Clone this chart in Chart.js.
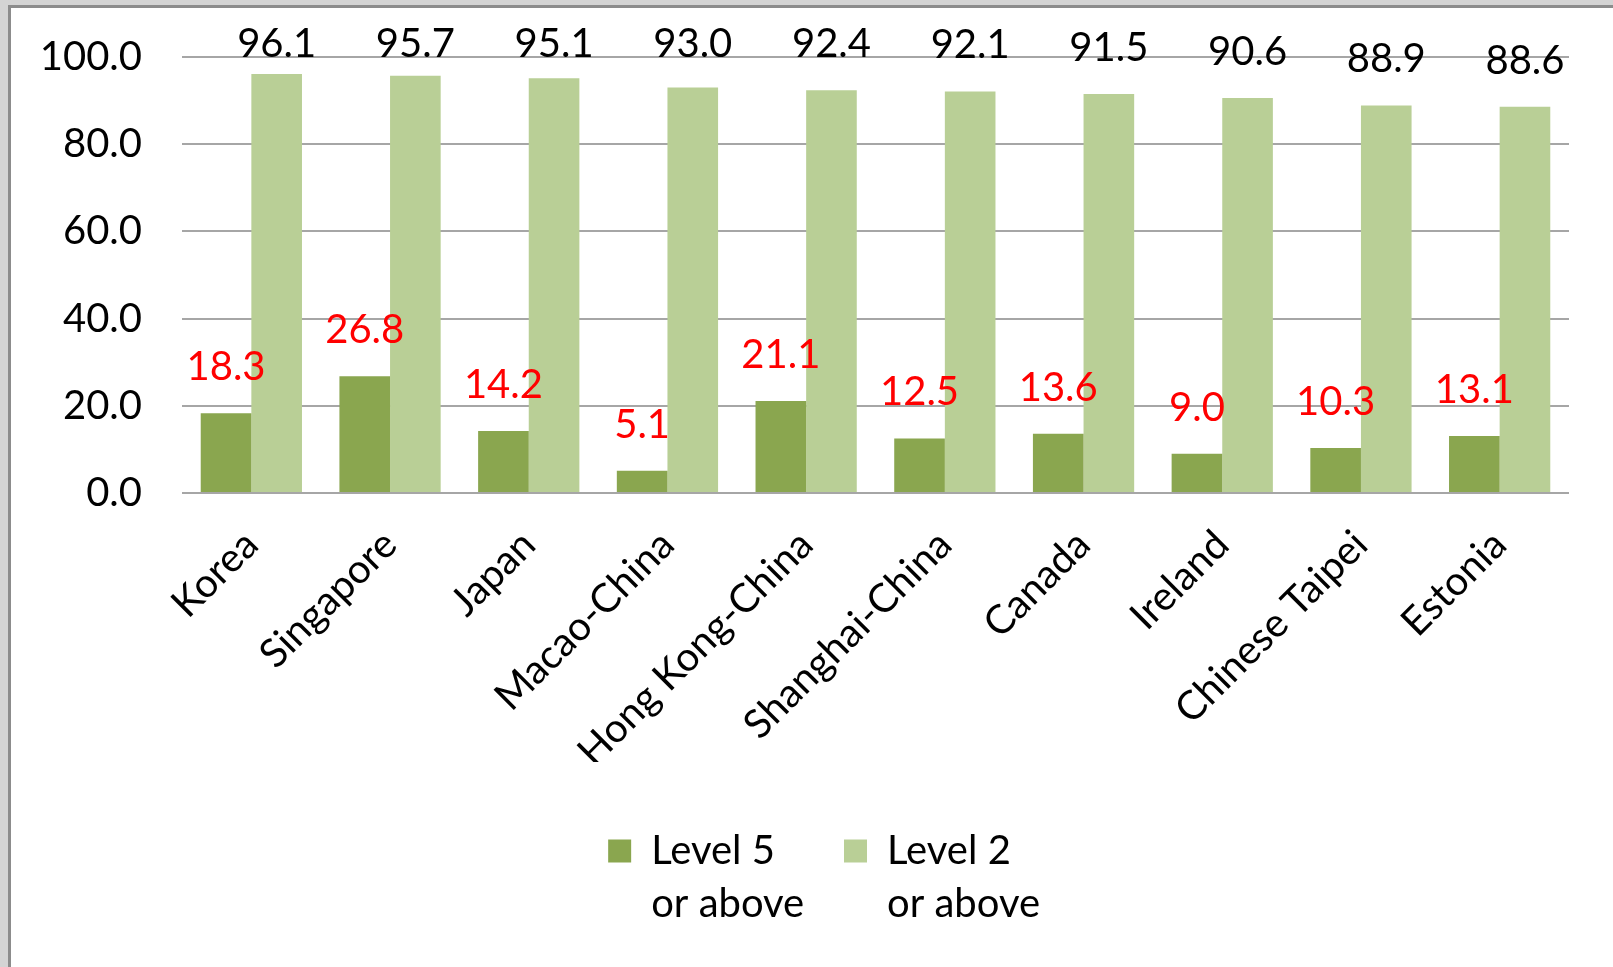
<!DOCTYPE html>
<html>
<head>
<meta charset="utf-8">
<script src="https://cdn.jsdelivr.net/npm/chart.js@4"></script>
<style>
  html, body { margin: 0; padding: 0; }
  body { width: 1613px; height: 967px; background: #d4d4d4; overflow: hidden; position: relative; }
  #panel {
    position: absolute; left: 8px; top: 5px; width: 1605px; height: 962px;
    background: #ffffff; border-left: 3px solid #8c8c8c; border-top: 3px solid #8c8c8c;
  }
  #chart { display: block; }
</style>
</head>
<body>
<div id="panel">
  <canvas id="chart" width="1602" height="959"></canvas>
</div>
<script>
// data
const countries = ['Korea', 'Singapore', 'Japan', 'Macao-China', 'Hong Kong-China',
  'Shanghai-China', 'Canada', 'Ireland', 'Chinese Taipei', 'Estonia'];
const level5 = [18.3, 26.8, 14.2, 5.1, 21.1, 12.5, 13.6, 9.0, 10.3, 13.1];
const level2 = [96.1, 95.7, 95.1, 93.0, 92.4, 92.1, 91.5, 90.6, 88.9, 88.6];
const yTicks = [0, 20, 40, 60, 80, 100];
const legendSecondLine = 'or above';

const fontName = 'Lato, "Open Sans", sans-serif';
const fontSize = 40;

// value labels above the bars
const barLabels = {
  id: 'barLabels',
  afterDatasetsDraw(chart) {
    const ctx = chart.ctx;
    const top = chart.chartArea.top;
    ctx.save();
    ctx.font = fontSize + 'px ' + fontName;
    ctx.textAlign = 'center';
    ctx.textBaseline = 'middle';
    chart.data.datasets.forEach((ds, i) => {
      const meta = chart.getDatasetMeta(i);
      meta.data.forEach((bar, j) => {
        let y = bar.y - 46;
        if (y < top - 13) y = top - 13;
        ctx.fillStyle = i == 0 ? '#ff0000' : '#000000';
        ctx.fillText(ds.data[j].toFixed(1), bar.x, y);
      });
    });
    ctx.restore();
  }
};

// second line of the legend text ("or above")
const legendWrap = {
  id: 'legendWrap',
  afterDraw(chart) {
    const lg = chart.legend;
    if (!lg || !lg.legendHitBoxes) return;
    const ctx = chart.ctx;
    const opts = lg.options.labels;
    ctx.save();
    ctx.font = fontSize + 'px ' + fontName;
    ctx.fillStyle = '#000000';
    ctx.textAlign = 'left';
    ctx.textBaseline = 'middle';
    lg.legendHitBoxes.forEach((hb) => {
      const x = hb.left + opts.boxWidth + fontSize / 2;
      const y = hb.top + hb.height / 2 + 53;
      ctx.fillText(legendSecondLine, x, y);
    });
    ctx.restore();
  }
};

// keep the plot area exactly where the padding puts it
function noPad(scale) {
  scale.paddingTop = 0;
  scale.paddingBottom = 0;
}

const ctx = document.getElementById('chart').getContext('2d');
const chart = new Chart(ctx, {
  type: 'bar',
  data: {
    labels: countries,
    datasets: [{
      label: 'Level 5',
      data: level5,
      backgroundColor: '#8aa64f',
      categoryPercentage: 0.73,
      barPercentage: 1.0
    }, {
      label: 'Level 2',
      data: level2,
      backgroundColor: '#b9cf96',
      categoryPercentage: 0.73,
      barPercentage: 1.0
    }]
  },
  options: {
    responsive: false,
    animation: false,
    layout: { padding: { left: 29, right: 34, top: 49, bottom: 86 } },
    scales: {
      x: {
        grid: { display: false, drawTicks: false },
        border: { display: false },
        ticks: {
          color: '#000000',
          font: { family: fontName, size: fontSize },
          minRotation: 45,
          maxRotation: 45,
          autoSkip: false,
          padding: 28
        },
        afterFit: (scale) => { scale.height = 269; noPad(scale); }
      },
      y: {
        min: 0,
        max: 100,
        afterBuildTicks: (scale) => { scale.ticks = yTicks.map(v => ({ value: v })); },
        grid: { color: '#a6a6a6', lineWidth: 2, drawTicks: false },
        border: { display: false },
        ticks: {
          color: '#000000',
          font: { family: fontName, size: fontSize },
          padding: 40,
          callback: (v) => Number(v).toFixed(1)
        },
        afterFit: (scale) => { scale.width = 142; noPad(scale); }
      },
      // empty spacer on the right so the legend sits where the original has it
      spacer: {
        type: 'linear',
        position: 'right',
        grid: { display: false, drawTicks: false },
        border: { display: false },
        ticks: { display: false },
        afterFit: (scale) => { scale.width = 10; noPad(scale); }
      }
    },
    plugins: {
      legend: {
        position: 'bottom',
        labels: {
          color: '#000000',
          font: { family: fontName, size: fontSize },
          boxWidth: 23,
          boxHeight: 23,
          padding: 69
        }
      },
      tooltip: { enabled: false }
    }
  },
  plugins: [barLabels, legendWrap]
});
</script>
</body>
</html>
